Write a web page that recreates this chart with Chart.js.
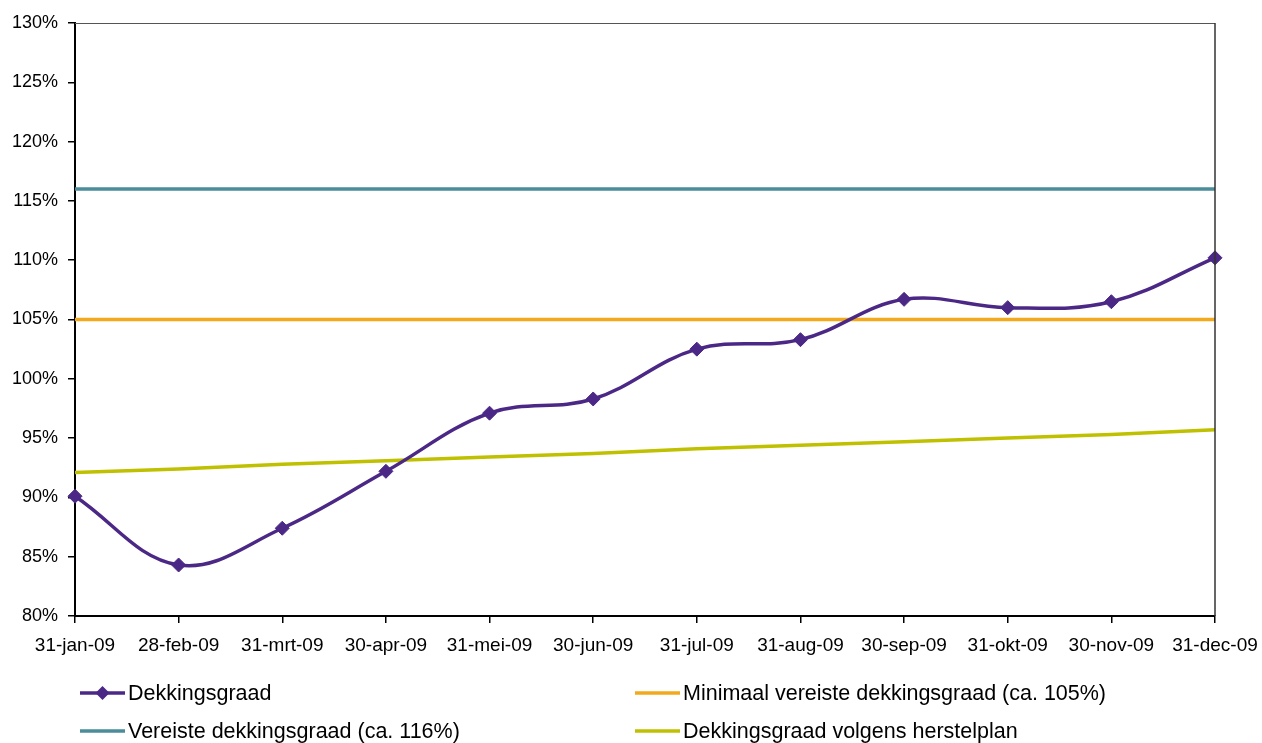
<!DOCTYPE html>
<html>
<head>
<meta charset="utf-8">
<script src="https://cdn.jsdelivr.net/npm/chart.js@4/dist/chart.umd.min.js"></script>
<style>
  html, body { margin: 0; padding: 0; background: #fff; }
  #wrap { position: relative; width: 1262px; height: 743px; }
</style>
</head>
<body>
<div id="wrap"><canvas id="chart" width="1262" height="743"></canvas></div>
<script>
// categorieen (maandeinde 2009)
const maanden = ['31-jan-09', '28-feb-09', '31-mrt-09', '30-apr-09', '31-mei-09', '30-jun-09',
                 '31-jul-09', '31-aug-09', '30-sep-09', '31-okt-09', '30-nov-09', '31-dec-09'];

// reeksen, in procenten
const dekkingsgraad = [90.1, 84.3, 87.4, 92.2, 97.1, 98.3, 102.5, 103.3, 106.7, 106.0, 106.5, 110.2];
const vereist       = [116, 116, 116, 116, 116, 116, 116, 116, 116, 116, 116, 116];
const minimaal      = [105, 105, 105, 105, 105, 105, 105, 105, 105, 105, 105, 105];
const herstelplan   = [92.1, 92.4, 92.8, 93.1, 93.4, 93.7, 94.1, 94.4, 94.7, 95.0, 95.3, 95.7];

// y-as
const yMin = 80, yMax = 130, yStap = 5;

const FONT = "'Liberation Sans', Arial, sans-serif";

// rand boven en rechts van het plotgebied
const kaderPlugin = {
    id: 'kader',
    afterDatasetsDraw(chart) {
        const { ctx, chartArea: a } = chart;
        ctx.save();
        ctx.lineWidth = 1;
        ctx.strokeStyle = '#555';
        ctx.beginPath();
        ctx.moveTo(a.left, a.top + 0.5);
        ctx.lineTo(a.right, a.top + 0.5);
        ctx.stroke();
        ctx.strokeStyle = '#333';
        ctx.lineWidth = 1.5;
        ctx.beginPath();
        ctx.moveTo(a.right, a.top);
        ctx.lineTo(a.right, a.bottom);
        ctx.stroke();
        ctx.restore();
    }
};

// legenda in twee kolommen, zoals in Excel
const legendaPlugin = {
    id: 'legenda',
    afterDraw(chart) {
        const { ctx } = chart;
        const plekken = [[80, 693], [80, 731], [635, 693], [635, 731]];
        ctx.save();
        ctx.font = '21.5px ' + FONT;
        ctx.textBaseline = 'middle';
        chart.data.datasets.forEach((ds, i) => {
            const [x, y] = plekken[i];
            ctx.strokeStyle = ds.borderColor;
            ctx.lineWidth = 3.5;
            ctx.beginPath();
            ctx.moveTo(x, y);
            ctx.lineTo(x + 45, y);
            ctx.stroke();
            if (ds.pointRadius > 0) {
                const r = 7;
                ctx.fillStyle = ds.borderColor;
                ctx.beginPath();
                ctx.moveTo(x + 22.5, y - r);
                ctx.lineTo(x + 22.5 + r, y);
                ctx.lineTo(x + 22.5, y + r);
                ctx.lineTo(x + 22.5 - r, y);
                ctx.closePath();
                ctx.fill();
            }
            ctx.fillStyle = '#000';
            ctx.fillText(ds.label, x + 48, y + 1);
        });
        ctx.restore();
    }
};

const lijn = (label, data, kleur, extra) => Object.assign({
    label, data,
    borderColor: kleur,
    backgroundColor: kleur,
    borderWidth: 3.5,
    pointRadius: 0,
    pointHoverRadius: 0,
    tension: 0,
    fill: false
}, extra || {});

new Chart(document.getElementById('chart'), {
    type: 'line',
    data: {
        labels: maanden,
        datasets: [
            lijn('Dekkingsgraad', dekkingsgraad, '#4B2886', {
                pointStyle: 'rectRot', pointRadius: 7, pointBorderWidth: 1, tension: 0.38, order: 0
            }),
            lijn('Vereiste dekkingsgraad (ca. 116%)', vereist, '#4A8C99', { order: 1 }),
            lijn('Minimaal vereiste dekkingsgraad (ca. 105%)', minimaal, '#F2AA1C', { order: 2 }),
            lijn('Dekkingsgraad volgens herstelplan', herstelplan, '#BFC000', { order: 3 })
        ]
    },
    options: {
        responsive: false,
        animation: false,
        layout: { padding: { top: 23, right: 47, left: 0, bottom: 82 } },
        plugins: {
            legend: { display: false },
            tooltip: { enabled: false }
        },
        scales: {
            x: {
                offset: false,
                grid: { drawOnChartArea: false, drawTicks: true, tickLength: 7, color: '#000', lineWidth: 1.5 },
                border: { color: '#000', width: 2 },
                ticks: { color: '#000', font: { family: FONT, size: 19 }, padding: 11, maxRotation: 0, autoSkip: false },
                afterFit(scale) {
                    scale.height = 45;
                    scale.paddingLeft = 0;
                    scale.paddingRight = 0;
                }
            },
            y: {
                min: yMin, max: yMax,
                grid: { drawOnChartArea: false, drawTicks: true, tickLength: 7, color: '#000', lineWidth: 1.5 },
                border: { color: '#000', width: 2 },
                ticks: {
                    stepSize: yStap, color: '#000', padding: 10,
                    font: { family: FONT, size: 18 },
                    callback: v => v + '%'
                },
                afterFit(scale) { scale.width = 75; }
            }
        }
    },
    plugins: [kaderPlugin, legendaPlugin]
});
</script>
</body>
</html>
